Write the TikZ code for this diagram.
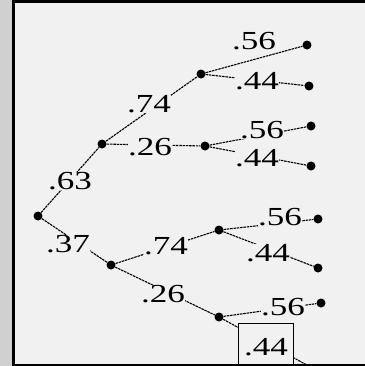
\documentclass[tikz,border=0pt]{standalone}
\usepackage{tikz}
\usepackage{fontspec}
\usetikzlibrary{positioning}
\newfontfamily\probfont{Liberation Serif}[FakeStretch=1.35]
\definecolor{paper}{HTML}{F1F1F1}
\definecolor{rim}{HTML}{D0D0D0}
\tikzset{
  dot/.style={circle, fill=black, inner sep=0pt, minimum size=9bp},
  branch/.style={line width=1.1bp, dash pattern=on 2.5bp off 0.8bp},
  prob/.style={font=\probfont\fontsize{26bp}{28bp}\selectfont, fill=paper, inner sep=0.5bp},
  pick/.style={prob, draw, line width=0.9bp, inner sep=4bp, minimum width=55bp, minimum height=46bp, anchor=north west, fill=none, text depth=0pt}
}
\begin{document}
\begin{tikzpicture}[x=1bp, y=-1bp]
\useasboundingbox (0,0) rectangle (365,366);
\fill[rim] (0,0) rectangle (12,366);
\fill[paper] (12,0) rectangle (365,366);
\begin{scope}
\clip (12,0) rectangle (365,364);
% tree nodes
\node[dot] (root) at (38,216) {};
\node[dot] (up) at (102,144) {};
\node[dot] (dn) at (111,265) {};
\node[dot] (upup) at (201,74) {};
\node[dot] (updn) at (205,146) {};
\node[dot] (dnup) at (219,230) {};
\node[dot] (dndn) at (219,317) {};
\node[dot] (l1) at (307,45) {};
\node[dot] (l2) at (309,86) {};
\node[dot] (l3) at (311,126) {};
\node[dot] (l4) at (311,166) {};
\node[dot] (l5) at (318,219) {};
\node[dot] (l6) at (318,268) {};
\node[dot] (l7) at (321,303) {};
\coordinate (l8) at (316,370);
% branches
\draw[branch] (root) -- (up);
\draw[branch] (root) -- (dn);
\draw[branch] (up) -- (upup);
\draw[branch] (up) -- (updn);
\draw[branch] (dn) -- (dnup);
\draw[branch] (dn) -- (dndn);
\draw[branch] (upup) -- (l1);
\draw[branch] (upup) -- (l2);
\draw[branch] (updn) -- (l3);
\draw[branch] (updn) -- (l4);
\draw[branch] (dnup) -- (l5);
\draw[branch] (dnup) -- (l6);
\draw[branch] (dndn) -- (l7);
\draw[branch] (dndn) -- (l8);
% probabilities
\node[prob] (p63) at (70,181) {.63};
\node[prob] (p37) at (68,244) {.37};
\node[prob] (p74a) at (149,104) {.74};
\node[prob] (p26a) at (150,147) {.26};
\node[prob] (p74b) at (166,246) {.74};
\node[prob] (p26b) at (163,294) {.26};
\node[prob, fill=none] (p56a) at (254,41) {.56};
\node[prob] (p44a) at (257,81) {.44};
\node[prob] (p56b) at (262,130) {.56};
\node[prob] (p44b) at (257,158) {.44};
\node[prob] (p56c) at (280,217) {.56};
\node[prob] (p44c) at (268,253) {.44};
\node[prob] (p56d) at (283,307) {.56};
\node[pick, fill=paper] (p44d) at (238,323) {.44};
\end{scope}
\draw[line width=3bp] (13.5,0) -- (13.5,366);
\draw[line width=2.5bp] (12,1.25) -- (365,1.25);
\draw[line width=2.5bp] (12,364.75) -- (365,364.75);
\end{tikzpicture}
\end{document}
